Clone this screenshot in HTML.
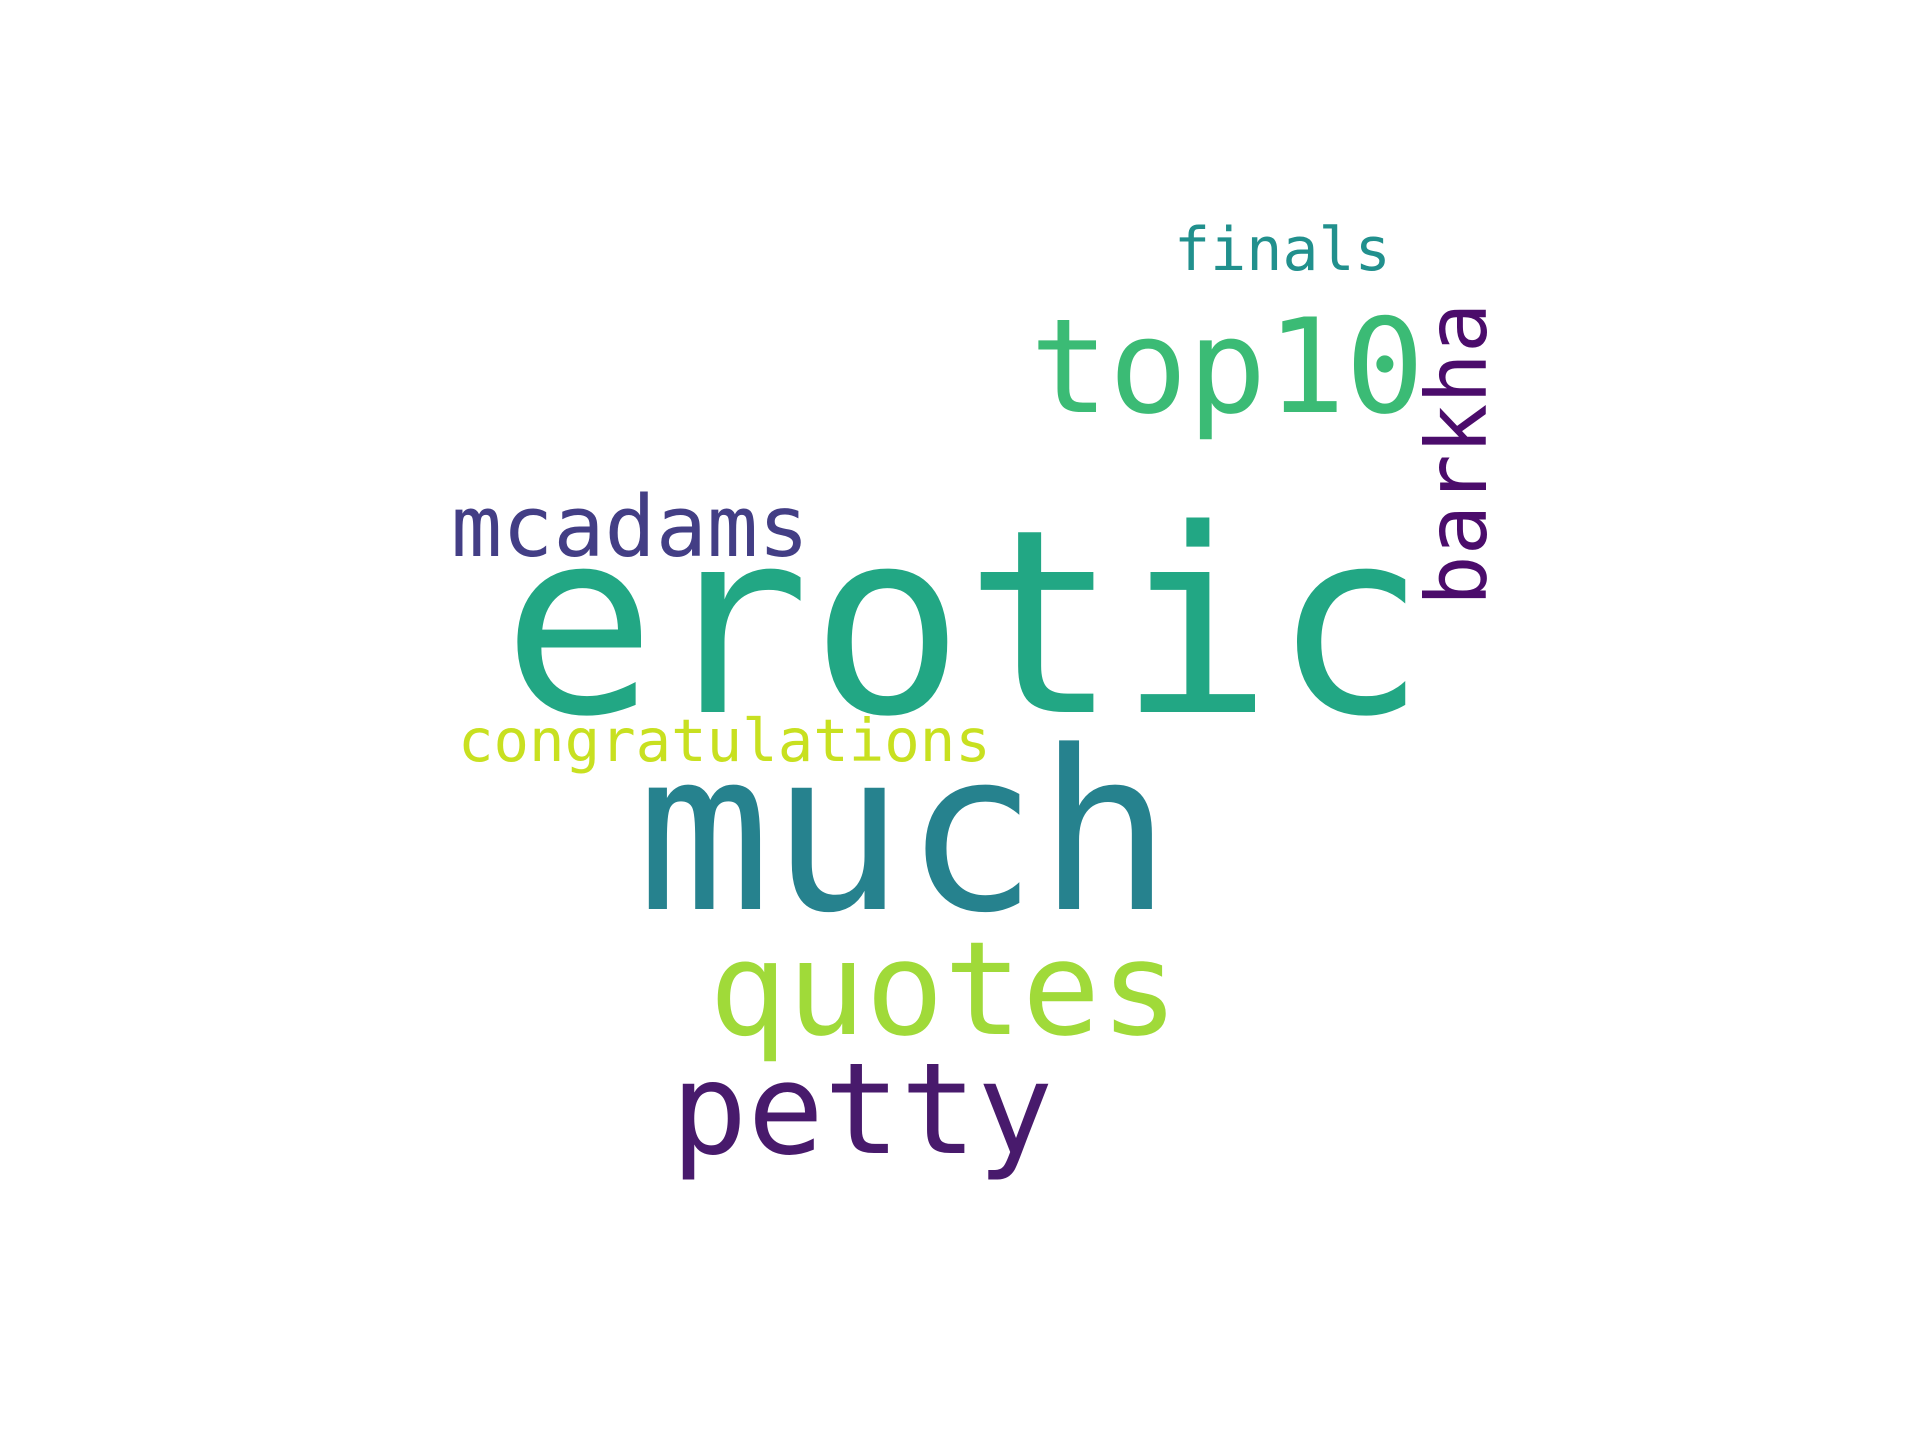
<!DOCTYPE html>
<html><head><meta charset="utf-8"><style>
html,body{margin:0;padding:0;background:#fff;}
svg{display:block;}
text{font-family:"DejaVu Sans Mono","Liberation Mono",monospace;}
</style></head><body>
<svg width="1920" height="1440" viewBox="0 0 1920 1440">
<rect width="1920" height="1440" fill="#fff"/>
<text x="502" y="712" font-size="256" fill="#22a784">erotic</text>
<text x="637" y="909" font-size="222" fill="#26828e">much</text>
<text x="709" y="1034" font-size="130" fill="#a0da39">quotes</text>
<text x="671" y="1153" font-size="127" fill="#481a6c">petty</text>
<text x="1030" y="412" font-size="131" fill="#3bbb75">top10</text>
<text x="451" y="556" font-size="85" fill="#433e85">mcadams</text>
<text x="458" y="761" font-size="59" fill="#c8e020">congratulations</text>
<text x="1174" y="270" font-size="60" fill="#21908d">finals</text>
<text x="0" y="0" font-size="84" fill="#4b0c6b" transform="translate(1486,606) rotate(-90)">barkha</text>
</svg>
</body></html>
